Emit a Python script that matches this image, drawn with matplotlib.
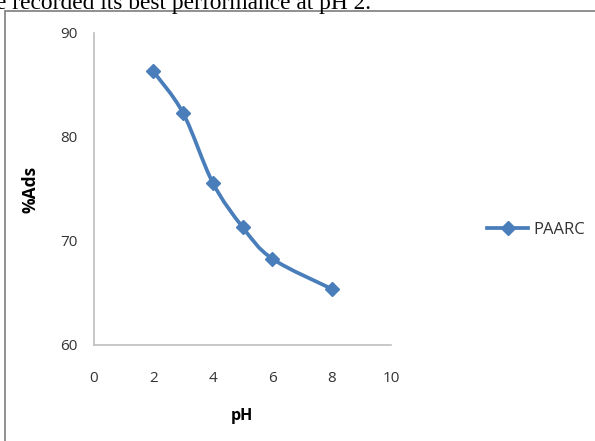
import numpy as np
import matplotlib
matplotlib.use('Agg')
import matplotlib.pyplot as plt
from matplotlib.path import Path
from matplotlib.patches import PathPatch, Rectangle
from matplotlib.lines import Line2D

# data
ph = [2, 3, 4, 5, 6, 8]
ads = [86.3, 82.3, 75.6, 71.35, 68.3, 65.4]
series_name = 'PAARC'
x_ticks = [0, 2, 4, 6, 8, 10]
y_ticks = [60, 70, 80, 90]

BLUE = '#4a7ebb'
GRID = '#bfbfbf'
plt.rcParams['font.family'] = ['Open Sans', 'DejaVu Sans']


def smooth_path(x, y):
    """Excel-like smoothed line: cubic bezier with Catmull-Rom tangents."""
    pts = np.column_stack([x, y]).astype(float)
    n = len(pts)
    verts = [pts[0]]
    codes = [Path.MOVETO]
    for i in range(n - 1):
        p0 = pts[i - 1] if i > 0 else pts[i]
        p1 = pts[i]
        p2 = pts[i + 1]
        p3 = pts[i + 2] if i + 2 < n else pts[i + 1]
        c1 = p1 + (p2 - p0) / 6.0
        c2 = p2 - (p3 - p1) / 6.0
        verts += [c1, c2, p2]
        codes += [Path.CURVE4] * 3
    return Path(verts, codes)


W, H = 595, 441
fig = plt.figure(figsize=(W / 100, H / 100), dpi=100)

# cropped caption text from the surrounding document
fig.text(-4 / W, 1 - 9 / H, 'e recorded its best performance at pH 2.',
         family='Liberation Serif', fontsize=16.8, va='baseline', ha='left',
         color='black')

# outer chart frame
fig.patches.append(Rectangle((5 / W, -0.1), 1.1, 1 - 11 / H + 0.1,
                             transform=fig.transFigure, fill=False,
                             edgecolor='#878787', lw=1.3))

ax = fig.add_axes([94 / W, 96 / H, 297 / W, 312 / H])
ax.set_xlim(0, 10)
ax.set_ylim(60, 90)
ax.set_xticks(x_ticks)
ax.set_yticks(y_ticks)
for side in ['top', 'right']:
    ax.spines[side].set_visible(False)
for side in ['left', 'bottom']:
    ax.spines[side].set_color(GRID)
    ax.spines[side].set_linewidth(1.2)
ax.tick_params(axis='x', length=0, pad=19, labelsize=11, labelcolor='#333333')
ax.tick_params(axis='y', length=0, pad=12, labelsize=11, labelcolor='#333333')

ax.add_patch(PathPatch(smooth_path(ph, ads), fill=False, edgecolor=BLUE,
                       lw=2.7, capstyle='round', zorder=3))
ax.plot(ph, ads, linestyle='none', marker='D', markersize=7,
        color=BLUE, zorder=4, clip_on=False)

fig.text(30 / W, 1 - 189 / H, '%Ads', rotation=90, ha='center', va='center',
         fontsize=12.5, fontweight='bold')
fig.text(242 / W, 1 - 416 / H, 'pH', ha='center', va='center',
         fontsize=11.5, fontweight='bold')

handle = Line2D([], [], color=BLUE, lw=2.7, marker='D', markersize=7)
fig.legend([handle], [series_name], loc='center left',
           bbox_to_anchor=(480 / W, 1 - 230 / H), frameon=False,
           handlelength=2.5, handletextpad=0.3, fontsize=12,
           labelcolor='#333333', borderaxespad=0)

fig.savefig('out.png', dpi=100)
